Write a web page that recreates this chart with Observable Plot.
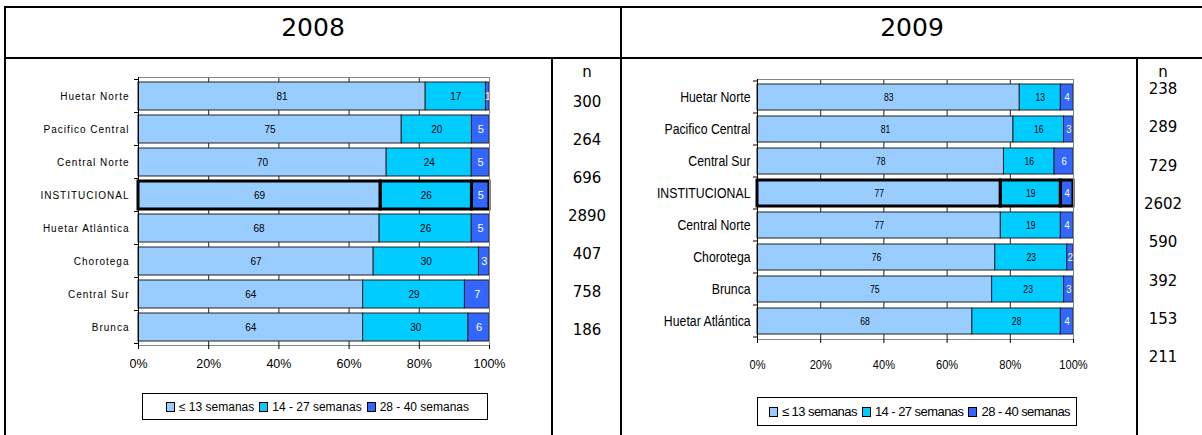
<!DOCTYPE html>
<html><head><meta charset="utf-8">
<script src="https://cdn.jsdelivr.net/npm/d3@7"></script>
<script src="https://cdn.jsdelivr.net/npm/@observablehq/plot@0.6"></script>
<style>
body{margin:0;background:#fff;}
#root{position:relative;width:1202px;height:435px;overflow:hidden;background:#fff;font-family:"DejaVu Sans",Verdana,sans-serif;color:#000;}
.ln{position:absolute;background:#000;}
.hdr{position:absolute;top:8px;height:40px;line-height:40px;text-align:center;font-size:25px;}
.ncol{position:absolute;text-align:center;font-size:15px;width:70px;}
.ncol div{position:absolute;left:0;width:100%;transform:translateY(-50%);}
.legend{position:absolute;border:1px solid #000;box-sizing:border-box;display:flex;align-items:center;justify-content:center;font-family:"Liberation Sans",Arial,sans-serif;font-size:12px;white-space:nowrap;}
.legend .sw{display:inline-block;width:7px;height:8px;border:1px solid #000;margin:0 4px 0 5px;vertical-align:middle;}
</style></head><body><div id="root"></div>
<script>
// ---- data ----
const categories = ["≤ 13 semanas", "14 - 27 semanas", "28 - 40 semanas"];
const colors = ["#99CCFF", "#00CCFF", "#3366FF"];
const years = ["2008", "2009"];
const highlight = "INSTITUCIONAL";
const xTicks = [0, 0.2, 0.4, 0.6, 0.8, 1];

const regions2008 = ["Huetar Norte", "Pacifico Central", "Central Norte", "INSTITUCIONAL", "Huetar Atlántica", "Chorotega", "Central Sur", "Brunca"];
const le13_2008   = [81, 75, 70, 69, 68, 67, 64, 64];
const w14_27_2008 = [17, 20, 24, 26, 26, 30, 29, 30];
const w28_40_2008 = [1, 5, 5, 5, 5, 3, 7, 6];
const n2008 = [300, 264, 696, 2890, 407, 758, 186];

const regions2009 = ["Huetar Norte", "Pacifico Central", "Central Sur", "INSTITUCIONAL", "Central Norte", "Chorotega", "Brunca", "Huetar Atlántica"];
const le13_2009   = [83, 81, 78, 77, 77, 76, 75, 68];
const w14_27_2009 = [13, 16, 16, 19, 19, 23, 23, 28];
const w28_40_2009 = [4, 3, 6, 4, 4, 2, 3, 4];
const n2009 = [238, 289, 729, 2602, 590, 392, 153, 211];

// ---- layout (not data): n-column rows ----
const nLeft = {head: 72, first: 102, step: 38};
const nRight = {head: 72, first: 89, step: 38.3};

const root = document.getElementById("root");
function el(tag, cls, style, html){const e=document.createElement(tag); if(cls) e.className=cls; if(style) e.style.cssText=style; if(html!=null) e.innerHTML=html; root.appendChild(e); return e;}

// table lines
el("div","ln","left:4px;top:6px;width:1198px;height:2px");
el("div","ln","left:4px;top:57px;width:1198px;height:2px");
el("div","ln","left:4px;top:6px;width:2px;height:429px");
el("div","ln","left:620px;top:6px;width:2px;height:429px");
el("div","ln","left:551px;top:57px;width:2px;height:378px");
el("div","ln","left:1136px;top:57px;width:2px;height:378px");

// headers
el("div","hdr","left:6px;width:614px",years[0]);
el("div","hdr","left:622px;width:580px",years[1]);

// n columns
function nColumn(left, values, lay){
  const c = el("div","ncol",`left:${left}px;top:0;height:435px`);
  const h = document.createElement("div"); h.textContent="n"; h.style.top=lay.head+"px"; c.appendChild(h);
  values.forEach((v,i)=>{const d=document.createElement("div"); d.textContent=v; d.style.top=(lay.first+i*lay.step)+"px"; c.appendChild(d);});
}
nColumn(552, n2008, nLeft);
nColumn(1128, n2009, nRight);

function bandTicks(regions){
  return (index, scales, values, dims) => {
    const g = d3.create("svg:g");
    const y = scales.y;
    if (!y || typeof y.step !== "function") return g.node();
    const step = y.step(), bw = y.bandwidth();
    const x0 = dims.marginLeft;
    const ys = regions.map(r => y(r) - (step - bw) / 2);
    ys.push(y(regions[regions.length - 1]) + bw + (step - bw) / 2);
    for (const yy of ys) g.append("line").attr("x1", x0 - 4).attr("x2", x0).attr("y1", yy).attr("y2", yy).attr("stroke", "#000");
    return g.node();
  };
}

function chart(cfg){
  const data = cfg.regions.flatMap((r,i)=>[cfg.s1[i], cfg.s2[i], cfg.s3[i]].map((v,j)=>({region:r, cat:categories[j], value:v})));
  const st = (o) => Plot.stackX({x:"value", y:"region", z:"cat", order:categories, offset:"normalize", ...o});
  return Plot.plot({
    width: cfg.width, height: cfg.height,
    marginLeft: cfg.ml, marginRight: cfg.mr, marginTop: cfg.mt, marginBottom: cfg.mb,
    style: {fontFamily: '"Liberation Sans",Arial,sans-serif', color:"#000", background:"transparent", overflow:"visible"},
    x: {domain:[0,1]},
    y: {domain: cfg.regions, paddingInner: cfg.pad, paddingOuter: cfg.pad/2},
    color: {domain: categories, range: colors},
    marks: [
      Plot.ruleX(xTicks, {stroke:"#222", strokeWidth:1}),
      Plot.barX(data, st({fill:"cat", stroke:"#222", strokeWidth:1})),
      Plot.barX(data, Plot.filter(d=>d.region===highlight, st({fill:"none", stroke:"#000", strokeWidth:3}))),
      Plot.text(data, Plot.filter(d=>d.cat!==categories[2], st({text:"value", fill:"#000", fontSize:cfg.vfs}))),
      Plot.text(data, Plot.filter(d=>d.cat===categories[2], st({text:"value", fill:"#fff", fontSize:cfg.vfs+1}))),
      Plot.frame({stroke:"#888"}),
      Plot.ruleX([0], {stroke:"#000"}),
      bandTicks(cfg.regions),
      Plot.axisX({ticks: xTicks, tickFormat: d3.format(".0%"), tickSize: 4, tickPadding: cfg.xtp, fontSize: cfg.xfs, label: null, stroke:"#000", fill:"#000"}),
      Plot.axisY({tickSize: 0, tickPadding: cfg.ytp, fontSize: cfg.yfs, label: null, fill:"#000"})
    ]
  });
}

// horizontally condense all svg texts around their anchor points
function condense(svg, s){
  svg.querySelectorAll("text").forEach(t=>{
    let bb; try { bb = t.getBBox(); } catch(e) { return; }
    const anchor = getComputedStyle(t).textAnchor;
    const px = anchor==="end" ? bb.x+bb.width : anchor==="middle" ? bb.x+bb.width/2 : bb.x;
    const tr = t.transform && t.transform.baseVal.consolidate();
    const M = tr ? tr.matrix : null;
    const gx = M ? M.a*px + M.c*(bb.y) + M.e : px;
    const g = document.createElementNS("http://www.w3.org/2000/svg","g");
    g.setAttribute("transform", `translate(${gx},0) scale(${s},1) translate(${-gx},0)`);
    t.parentNode.insertBefore(g, t);
    g.appendChild(t);
  });
}

const left = chart({regions:regions2008, s1:le13_2008, s2:w14_27_2008, s3:w28_40_2008,
  width:545, height:320, ml:132, mr:62, mt:18, mb:34, pad:0.164, vfs:10, xfs:12.5, yfs:10, xtp:10, ytp:9});
left.style.cssText += ";position:absolute;left:6px;top:59px;";
root.appendChild(left);
// wider letter spacing on the 2008 category labels
const leftYLabels = new Set(regions2008);
left.querySelectorAll("text").forEach(t=>{ if (leftYLabels.has(t.textContent)) t.setAttribute("letter-spacing","1"); });

const right = chart({regions:regions2009, s1:le13_2009, s2:w14_27_2009, s3:w28_40_2009,
  width:514, height:320, ml:135, mr:63, mt:20, mb:40, pad:0.18, vfs:10.5, xfs:13.5, yfs:15, xtp:16, ytp:7});
right.style.cssText += ";position:absolute;left:622px;top:59px;";
root.appendChild(right);
condense(right, 0.82);

// legends
function legend(style){
  const l = el("div","legend", style);
  l.innerHTML = categories.map((c,i)=>`<span class="sw" style="background:${colors[i]}"></span>${c}`).join("");
  return l;
}
legend("left:142px;top:393px;width:346px;height:27px;");
legend("left:757px;top:397px;width:320px;height:29px;font-size:13px;letter-spacing:-0.55px");
</script>
</body></html>
